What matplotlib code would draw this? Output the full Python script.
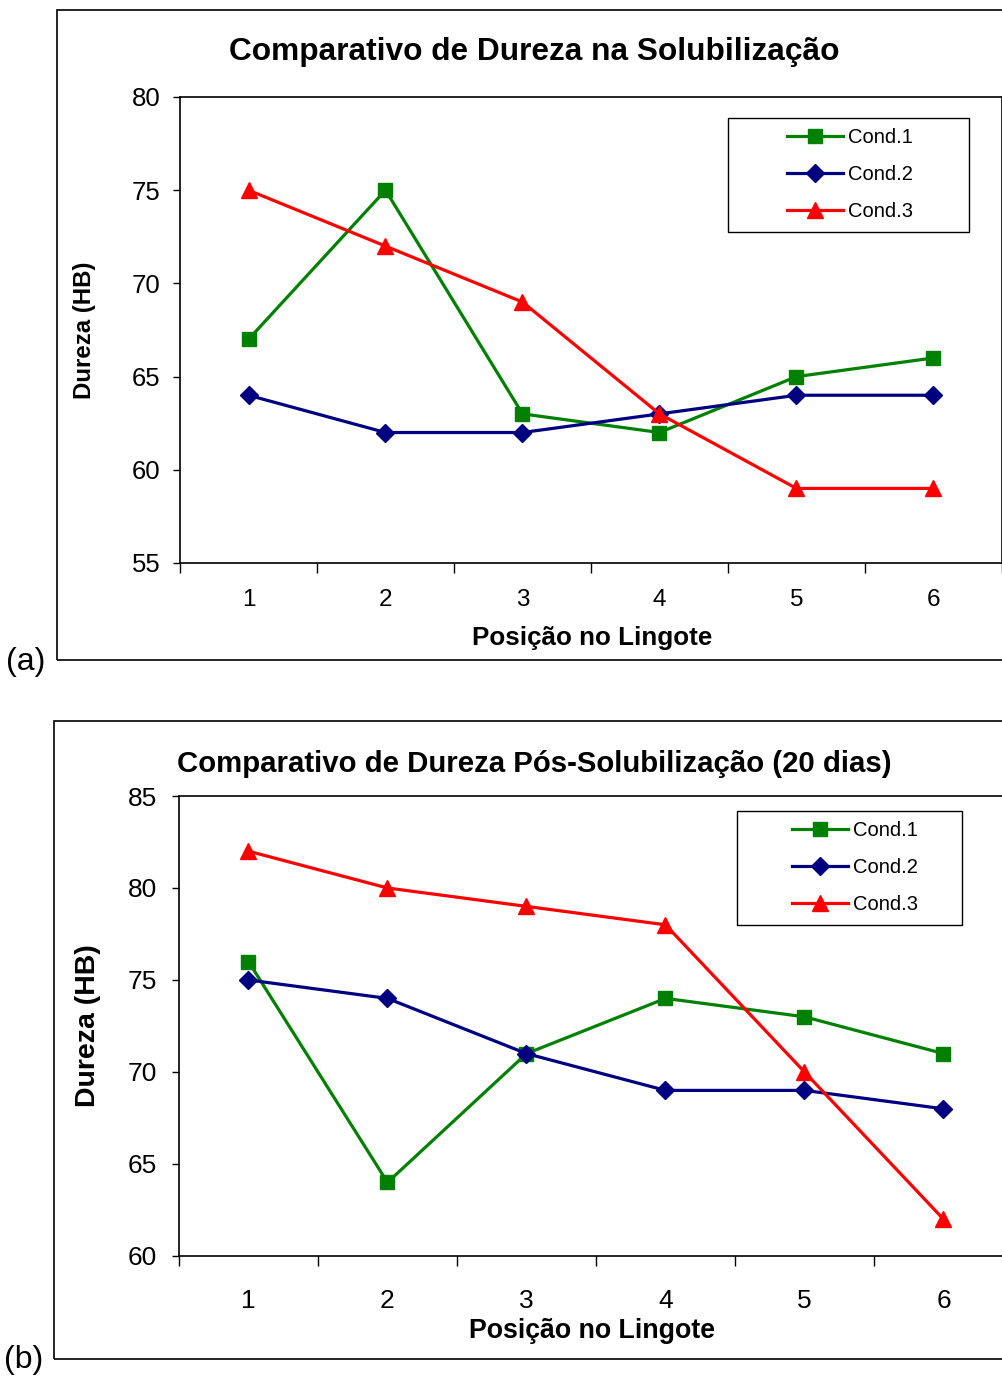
import matplotlib
matplotlib.use('Agg')
import matplotlib.pyplot as plt
from matplotlib.patches import Rectangle
import numpy as np

plt.rcParams['font.family'] = ['Liberation Sans', 'DejaVu Sans']

# data
posicoes = [1, 2, 3, 4, 5, 6]
series_names = ['Cond.1', 'Cond.2', 'Cond.3']

# (a) Solubilizacao
sol_cond1 = [67, 75, 63, 62, 65, 66]
sol_cond2 = [64, 62, 62, 63, 64, 64]
sol_cond3 = [75, 72, 69, 63, 59, 59]

# (b) Pos-solubilizacao (20 dias)
pos_cond1 = [76, 64, 71, 74, 73, 71]
pos_cond2 = [75, 74, 71, 69, 69, 68]
pos_cond3 = [82, 80, 79, 78, 70, 62]

colors = ['#008000', '#000080', '#FF0000']
markers = ['s', 'D', '^']
msizes = [10.5, 9.5, 12]

W, H = 1003, 1376


def fx(x):
    return x / W


def fy(y):
    return 1 - y / H


def draw_panel(fig, box, values, ylim, title, title_y, xlab_y, ylab_x,
               frame, legend_box, leg_anchor, tfs, xpad, ypad, tick_fs_x, tick_fs_y,
               yl_fs, xl_fs, tag, tag_xy):
    left, top, right, bottom = box
    ax = fig.add_axes([fx(left), fy(bottom), (right - left) / W, (bottom - top) / H])
    handles = []
    for vals, name, c, m, ms in zip(values, series_names, colors, markers, msizes):
        h, = ax.plot(posicoes, vals, color=c, marker=m, markersize=ms,
                     linewidth=2.3, label=name, clip_on=False, zorder=3)
        handles.append(h)

    ax.set_xlim(0.5, 6.5)
    ax.set_ylim(*ylim)
    ax.set_yticks(np.arange(ylim[0], ylim[1] + 1, 5))
    ax.tick_params(axis='y', direction='out', length=5, width=1, pad=ypad,
                   labelsize=tick_fs_y)
    # category boundaries get the tick marks, centres get the labels
    ax.set_xticks(np.arange(0.5, 7.0, 1.0))
    ax.set_xticklabels([])
    ax.set_xticks(posicoes, minor=True)
    ax.set_xticklabels([str(p) for p in posicoes], minor=True)
    ax.tick_params(axis='x', which='major', direction='out', length=7, width=1)
    ax.tick_params(axis='x', which='minor', length=0, pad=xpad, labelsize=tick_fs_x)
    for s in ax.spines.values():
        s.set_linewidth(1.2)
        s.set_color('black')

    # outer chart frame (runs off the right edge like the original)
    fl, ft, fb = frame
    fig.add_artist(Rectangle((fx(fl), fy(fb)), 2.0, (fb - ft) / H,
                             transform=fig.transFigure, fill=False,
                             edgecolor='black', linewidth=1.2))

    fig.text(fx(534), fy(title_y), title, fontsize=tfs, fontweight='bold',
             ha='center', va='center')
    fig.text(fx(592), fy(xlab_y), 'Posição no Lingote', fontsize=xl_fs,
             fontweight='bold', ha='center', va='center')
    fig.text(fx(ylab_x), (fy(top) + fy(bottom)) / 2, 'Dureza (HB)', fontsize=yl_fs,
             fontweight='bold', ha='center', va='center', rotation=90)
    fig.text(fx(tag_xy[0]), fy(tag_xy[1]), tag, fontsize=23, ha='left', va='center')

    bl, bt, br, bb = legend_box
    fig.add_artist(Rectangle((fx(bl), fy(bb)), (br - bl) / W, (bb - bt) / H,
                             transform=fig.transFigure, fill=False,
                             edgecolor='black', linewidth=1.0))
    ax.legend(handles=handles, loc='upper left',
              bbox_to_anchor=(fx(leg_anchor[0]), fy(leg_anchor[1])),
              bbox_transform=fig.transFigure, frameon=False, fontsize=14.5,
              handlelength=2.8, handletextpad=0.25, borderpad=0, borderaxespad=0,
              labelspacing=0.9)
    return ax


fig = plt.figure(figsize=(W / 100, H / 100), dpi=100)

draw_panel(fig, (180, 97, 1002, 563),
           [sol_cond1, sol_cond2, sol_cond3], (55, 80),
           'Comparativo de Dureza na Solubilização', 52, 638, 85,
           (57, 10, 660), (728, 118, 969, 232), (787, 128),
           22.8, 19, 9, 17.5, 18.5, 17.3, 18.7, '(a)', (6, 662))

draw_panel(fig, (179, 796, 1013, 1256),
           [pos_cond1, pos_cond2, pos_cond3], (60, 85),
           'Comparativo de Dureza Pós-Solubilização (20 dias)', 764, 1331, 88,
           (54, 721, 1359), (737, 811, 962, 925), (792, 821),
           21.2, 24, 11, 19, 19, 20.5, 19.3, '(b)', (4, 1360))

fig.savefig('out.png', dpi=100)
